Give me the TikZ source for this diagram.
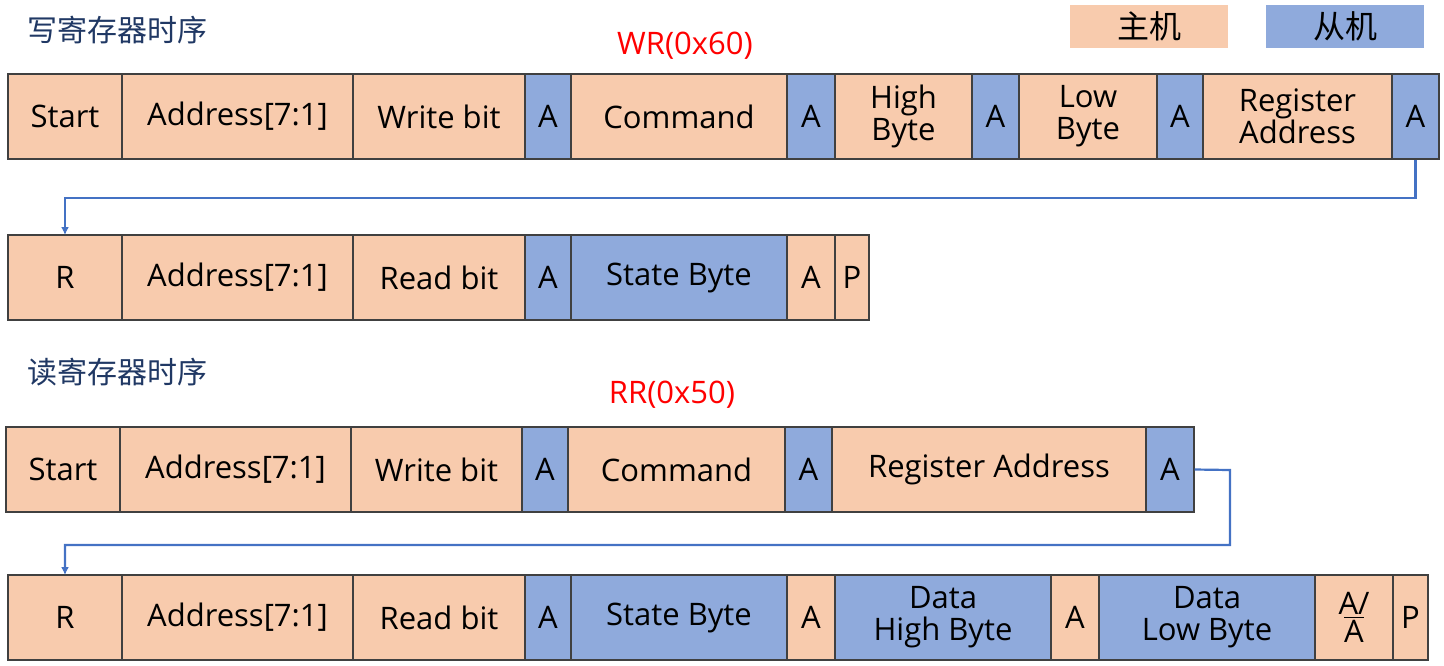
\documentclass[tikz,border=0pt]{standalone}
\usepackage{fontspec}
\setmainfont{Open Sans}
\newfontfamily\cjk{Noto Sans CJK SC}
\definecolor{host}{HTML}{F8CBAD}
\definecolor{slave}{HTML}{8FAADC}
\definecolor{wire}{HTML}{4472C4}
\definecolor{ttl}{HTML}{203864}
\begin{document}
\begin{tikzpicture}[x=0.5pt,y=-0.5pt,
 bx/.style={draw=black!75,line width=0.6pt,inner sep=0pt,align=center,font=\fontsize{15.5}{16}\selectfont},
 arr/.style={draw=wire,line width=1.1pt,-{Latex[length=4pt,width=4pt]}}]
\usetikzlibrary{arrows.meta}
\useasboundingbox (0,0) rectangle (1444,665);
\newcommand{\cell}[6]{\node[bx,fill=#5,minimum width=#2*0.5pt-#1*0.5pt,minimum height=#4*0.5pt-#3*0.5pt] (#6) at ({(#1+#2)/2},{(#3+#4)/2}) {};}
\newcommand{\row}[4]{% y1 y2 prefix list {x1/x2/color/text}
 \foreach \a/\b/\c/\t [count=\i] in {#4}{\node[bx,fill=\c,minimum width={(\b-\a)*0.5pt},minimum height={(#2-#1)*0.5pt}] (#3\i) at ({(\a+\b)/2},{(#1+#2)/2}) {\t};}}
\row{74}{159}{w}{8/122/host/Start,122/353/host/Address[7:1],353/525/host/Write bit,525/571/slave/A,571/787/host/Command,787/835/slave/A,835/972/host/High\\Byte,972/1019/slave/A,1019/1157/host/Low\\Byte,1157/1203/slave/A,1203/1392/host/Register\\Address,1392/1439/slave/A}
\row{235}{320}{x}{8/122/host/R/S,122/353/host/Address[7:1],353/525/host/Read bit,525/571/slave/A,571/787/slave/State Byte,787/835/host/A,835/869/host/P}
\row{427}{512}{r}{6/120/host/Start,120/351/host/Address[7:1],351/522/host/Write bit,522/568/slave/A,568/785/host/Command,785/832/slave/A,832/1146/host/Register Address,1146/1194/slave/A}
\row{575}{660}{s}{8/122/host/R/S,122/353/host/Address[7:1],353/525/host/Read bit,525/571/slave/A,571/787/slave/State Byte,787/835/host/A,835/1051/slave/Data\\High Byte,1051/1099/host/A,1099/1315/slave/Data\\Low Byte,1315/1393/host/{A/\\[-2pt]$\overline{\mbox{A}}$},1393/1428/host/P}
\node[anchor=west,text=ttl,font=\cjk\fontsize{15}{16}\selectfont] (t1) at (20,30) {写寄存器时序};
\node[anchor=west,text=ttl,font=\cjk\fontsize{15}{16}\selectfont] (t2) at (20,372) {读寄存器时序};
\node[text=red,font=\fontsize{15.5}{16}\selectfont] (wr) at (685,46) {WR(0x60)};
\node[text=red,font=\fontsize{15.5}{16}\selectfont] (rr) at (672,395) {RR(0x50)};
\node[fill=host,minimum width=79pt,minimum height=21.5pt,font=\cjk\fontsize{16}{16}\selectfont] (l1) at (1149,26) {主机};
\node[fill=slave,minimum width=79pt,minimum height=21.5pt,font=\cjk\fontsize{16}{16}\selectfont] (l2) at (1345,26) {从机};
\coordinate (c1) at (65,235);
\coordinate (c2) at (65,575);
\draw[arr] (w12.south) |- (65,198) -- (c1);
\draw[arr] (r8.east) -- (1230,470) |- (65,545) -- (c2);
\end{tikzpicture}
\end{document}
